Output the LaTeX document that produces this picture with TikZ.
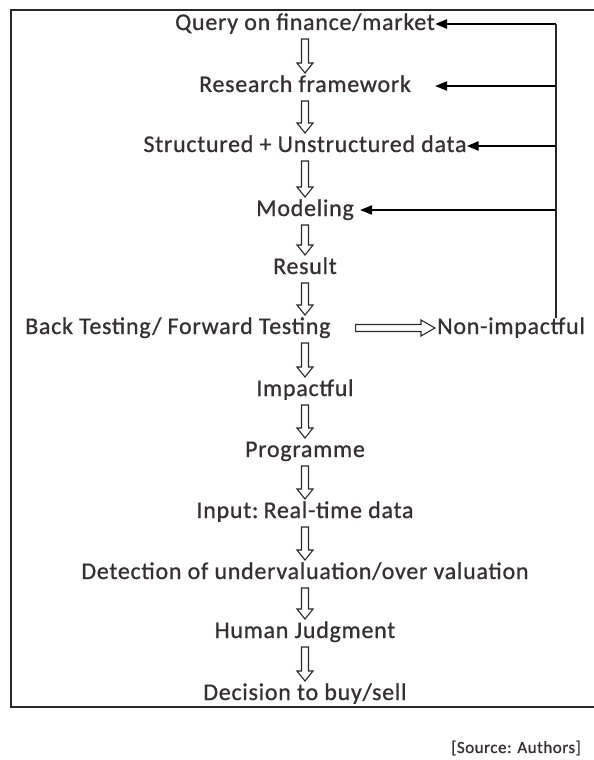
\documentclass[tikz,border=0pt]{standalone}
\usepackage{fontspec}
\setmainfont{Carlito}
\newfontfamily\diagfont[LetterSpace=3, FakeBold=0.8]{Carlito}
\usetikzlibrary{calc,arrows.meta}
\definecolor{txt}{RGB}{55,48,50}
\definecolor{ln}{RGB}{40,40,40}
\tikzset{
  lbl/.style={inner sep=0pt, text height=17pt, text depth=5pt, text=txt,
    font=\diagfont\fontsize{24}{28}\selectfont},
  hol/.style={draw=ln, line width=1.1pt, line join=miter},
  darr/.style={hol, to path={let \p1=(\tikztostart), \p2=(\tikztotarget) in
    (\x1-3.5pt,\y1-15pt) -- (\x1-3.5pt,\y2+23pt) -- (\x1-8pt,\y2+23pt) -- (\x1,\y2+13pt)
    -- (\x1+8pt,\y2+23pt) -- (\x1+3.5pt,\y2+23pt) -- (\x1+3.5pt,\y1-15pt) -- cycle}},
  darrT/.style={hol, to path={let \p1=(\tikztostart), \p2=(\tikztotarget) in
    (\x2-3.5pt,\y1-15pt) -- (\x2-3.5pt,\y2+23pt) -- (\x2-8pt,\y2+23pt) -- (\x2,\y2+13pt)
    -- (\x2+8pt,\y2+23pt) -- (\x2+3.5pt,\y2+23pt) -- (\x2+3.5pt,\y1-15pt) -- cycle}},
  rarr/.style={hol, to path={let \p1=(\tikztostart), \p2=(\tikztotarget) in
    (\x1+25pt,\y1+3.5pt) -- (\x2-16pt,\y1+3.5pt) -- (\x2-16pt,\y1+8pt) -- (\x2-2pt,\y1)
    -- (\x2-16pt,\y1-8pt) -- (\x2-16pt,\y1-3.5pt) -- (\x1+25pt,\y1-3.5pt) -- cycle}},
  fb/.style={draw=black, line width=2.4pt, -{Triangle[length=12pt,width=9pt]}},
  fbthin/.style={draw=black, line width=2pt, -{Triangle[length=12pt,width=9pt]}},
}
\begin{document}
\begin{tikzpicture}[x=1pt,y=-1pt]
\useasboundingbox (0,0) rectangle (594,760);
\begin{scope}
\clip (0,0) rectangle (594,760);
\draw[draw=ln, line width=1.8pt] (11,10) rectangle (620,707);
\end{scope}

\node[lbl] (query) at (305,24) {Query on finance/market};
\node[lbl] (research) at (305,86) {Research framework};
\node[lbl] (struct) at (305,146) {Structured + Unstructured data};
\node[lbl] (model) at (305,210) {Modeling};
\node[lbl] (result) at (305,268) {Result};
\node[lbl, anchor=west] (back) at (25,328) {Back Testing/ Forward Testing};
\node[lbl, anchor=west] (nonimp) at (437,328) {Non-impactful};
\node[lbl] (impact) at (305,390) {Impactful};
\node[lbl] (prog) at (305,451) {Programme};
\node[lbl] (input) at (305,512) {Input:\hspace{-3pt} Real-time data};
\node[lbl] (detect) at (305,573) {Detection of undervaluation/over valuation};
\node[lbl] (human) at (305,632) {Human Judgment};
\node[lbl] (decide) at (305,694) {Decision to buy/sell};
\node[inner sep=0pt, anchor=east, text=txt, font=\diagfont\fontsize{17}{20}\selectfont] (src) at (581,748) {[Source: Authors]};

\draw[darr] (query) to (research);
\draw[darr] (research) to (struct);
\draw[darr] (struct) to (model);
\draw[darr] (model) to (result);
\draw[darr] (result) to (back);
\draw[darrT] (back) to (impact);
\draw[darr] (impact) to (prog);
\draw[darr] (prog) to (input);
\draw[darr] (input) to (detect);
\draw[darr] (detect) to (human);
\draw[darr] (human) to (decide);
\draw[rarr] (back.east) to (nonimp.west);

\coordinate (fbbot) at (556,318);
\coordinate (fbtop) at (556,24);
\draw[draw=ln, line width=1.8pt] (fbbot) -- (fbtop);
\draw[fb] (fbtop) -- (query.east);
\draw[fbthin] (fbtop |- research) -- (research -| query.east);
\draw[fb] (fbtop |- struct) -- (struct.east);
\draw[fbthin] (fbtop |- model) -- ($(model.east)+(6,0)$);
\end{tikzpicture}
\end{document}
